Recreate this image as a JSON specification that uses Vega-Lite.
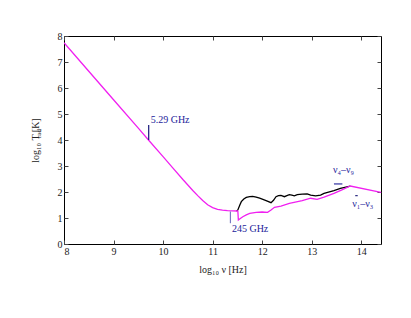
{
  "$schema": "https://vega.github.io/schema/vega-lite/v6.json",
  "width": 317,
  "height": 208,
  "autosize": {"type": "none"},
  "padding": {"left": 64, "top": 36, "right": 30, "bottom": 74},
  "background": "white",
  "config": {
    "font": "Liberation Serif",
    "view": {"stroke": "#000", "strokeWidth": 1},
    "axis": {
      "labelFont": "Liberation Serif",
      "titleFont": "Liberation Serif",
      "labelFontSize": 10,
      "titleFontSize": 10,
      "titleFontWeight": "normal",
      "labelColor": "#222",
      "titleColor": "#222",
      "grid": false,
      "domain": false,
      "tickColor": "#444",
      "tickSize": -4,
      "labelPadding": 6
    }
  },
  "datasets": {
    "magenta": [
      {"x": 8, "y": 7.74}, {"x": 8.5, "y": 6.645}, {"x": 9, "y": 5.55}, {"x": 9.5, "y": 4.455},
      {"x": 9.71, "y": 3.99}, {"x": 10.0, "y": 3.36}, {"x": 10.2, "y": 2.92}, {"x": 10.4, "y": 2.48},
      {"x": 10.5, "y": 2.27}, {"x": 10.6, "y": 2.06}, {"x": 10.7, "y": 1.86}, {"x": 10.8, "y": 1.67},
      {"x": 10.9, "y": 1.51}, {"x": 11.0, "y": 1.4}, {"x": 11.1, "y": 1.33}, {"x": 11.2, "y": 1.3},
      {"x": 11.3, "y": 1.28}, {"x": 11.4, "y": 1.275}, {"x": 11.5, "y": 1.27}, {"x": 11.51, "y": 1.26},
      {"x": 11.52, "y": 0.92}, {"x": 11.56, "y": 0.98}, {"x": 11.61, "y": 1.05}, {"x": 11.68, "y": 1.12},
      {"x": 11.75, "y": 1.18}, {"x": 11.88, "y": 1.22}, {"x": 12.0, "y": 1.23}, {"x": 12.11, "y": 1.22},
      {"x": 12.18, "y": 1.31}, {"x": 12.25, "y": 1.41}, {"x": 12.38, "y": 1.46}, {"x": 12.55, "y": 1.56},
      {"x": 12.81, "y": 1.67}, {"x": 12.98, "y": 1.76}, {"x": 13.11, "y": 1.72}, {"x": 13.25, "y": 1.8},
      {"x": 13.45, "y": 1.95}, {"x": 13.6, "y": 2.07}, {"x": 13.78, "y": 2.23}, {"x": 14.4, "y": 1.985}
    ],
    "black": [
      {"x": 11.48, "y": 1.27}, {"x": 11.51, "y": 1.31}, {"x": 11.55, "y": 1.5}, {"x": 11.58, "y": 1.63},
      {"x": 11.63, "y": 1.73}, {"x": 11.68, "y": 1.79}, {"x": 11.75, "y": 1.82}, {"x": 11.81, "y": 1.83},
      {"x": 11.88, "y": 1.8}, {"x": 11.95, "y": 1.76}, {"x": 12.08, "y": 1.67}, {"x": 12.18, "y": 1.59},
      {"x": 12.23, "y": 1.68}, {"x": 12.28, "y": 1.82}, {"x": 12.33, "y": 1.86}, {"x": 12.38, "y": 1.87},
      {"x": 12.45, "y": 1.82}, {"x": 12.5, "y": 1.86}, {"x": 12.55, "y": 1.9}, {"x": 12.6, "y": 1.88},
      {"x": 12.65, "y": 1.85}, {"x": 12.71, "y": 1.9}, {"x": 12.81, "y": 1.92}, {"x": 12.91, "y": 1.93},
      {"x": 12.98, "y": 1.88}, {"x": 13.08, "y": 1.85}, {"x": 13.18, "y": 1.88}, {"x": 13.25, "y": 1.95},
      {"x": 13.45, "y": 2.05}, {"x": 13.58, "y": 2.14}, {"x": 13.78, "y": 2.23}
    ],
    "markers": [
      {"x": 9.71, "x2": 9.71, "y": 4.0, "y2": 4.58, "c": "#16167a"},
      {"x": 11.36, "x2": 11.36, "y": 0.8, "y2": 1.25, "c": "#7878c4"},
      {"x": 13.45, "x2": 13.62, "y": 2.31, "y2": 2.31, "c": "#3030a0"},
      {"x": 13.88, "x2": 13.93, "y": 1.86, "y2": 1.86, "c": "#2a2a80"}
    ],
    "labels": [
      {"x": 9.75, "y": 4.65, "t": "5.29 GHz"},
      {"x": 11.39, "y": 0.46, "t": "245 GHz"},
      {"x": 13.43, "y": 2.72, "t": "ν₄–ν₉"},
      {"x": 13.82, "y": 1.43, "t": "ν₁–ν₃"}
    ]
  },
  "layer": [
    {
      "data": {"name": "black"},
      "mark": {"type": "line", "color": "#000", "strokeWidth": 1.3, "clip": true},
      "encoding": {
        "x": {"field": "x", "type": "quantitative", "scale": {"domain": [8, 14.4], "nice": false, "zero": false},
              "axis": {"orient": "bottom", "values": [8, 9, 10, 11, 12, 13, 14], "title": "log₁₀ ν [Hz]", "titlePadding": 8}},
        "y": {"field": "y", "type": "quantitative", "scale": {"domain": [0, 8], "nice": false, "zero": false},
              "axis": {"orient": "left", "values": [0, 1, 2, 3, 4, 5, 6, 7, 8], "title": "log₁₀ T    [K]",
                       "titleX": -29, "titleY": 104, "titleAngle": -90, "titleAlign": "center", "titleBaseline": "middle"}}
      }
    },
    {
      "data": {"name": "magenta"},
      "mark": {"type": "line", "color": "#f020f0", "strokeWidth": 1.3, "clip": true},
      "encoding": {
        "x": {"field": "x", "type": "quantitative",
              "axis": {"orient": "top", "values": [8, 9, 10, 11, 12, 13, 14], "labels": false, "title": null}},
        "y": {"field": "y", "type": "quantitative",
              "axis": {"orient": "right", "values": [0, 1, 2, 3, 4, 5, 6, 7, 8], "labels": false, "title": null}}
      }
    },
    {
      "data": {"name": "markers"},
      "mark": {"type": "rule", "strokeWidth": 1.2},
      "encoding": {
        "x": {"field": "x", "type": "quantitative", "axis": null},
        "x2": {"field": "x2"},
        "y": {"field": "y", "type": "quantitative",
              "axis": {"orient": "left", "labels": false, "ticks": false, "title": "rad", "titleFontSize": 7,
                       "titleX": -26, "titleY": 97, "titleAngle": -90, "titleAlign": "center", "titleBaseline": "middle"}},
        "y2": {"field": "y2"},
        "color": {"field": "c", "type": "nominal", "scale": null, "legend": null}
      }
    },
    {
      "data": {"name": "labels"},
      "mark": {"type": "text", "align": "left", "baseline": "alphabetic", "font": "Liberation Serif", "fontSize": 10, "color": "#22229a"},
      "encoding": {
        "x": {"field": "x", "type": "quantitative", "axis": null},
        "y": {"field": "y", "type": "quantitative", "axis": null},
        "text": {"field": "t"}
      }
    }
  ],
  "resolve": {"axis": {"x": "independent", "y": "independent"}}
}
